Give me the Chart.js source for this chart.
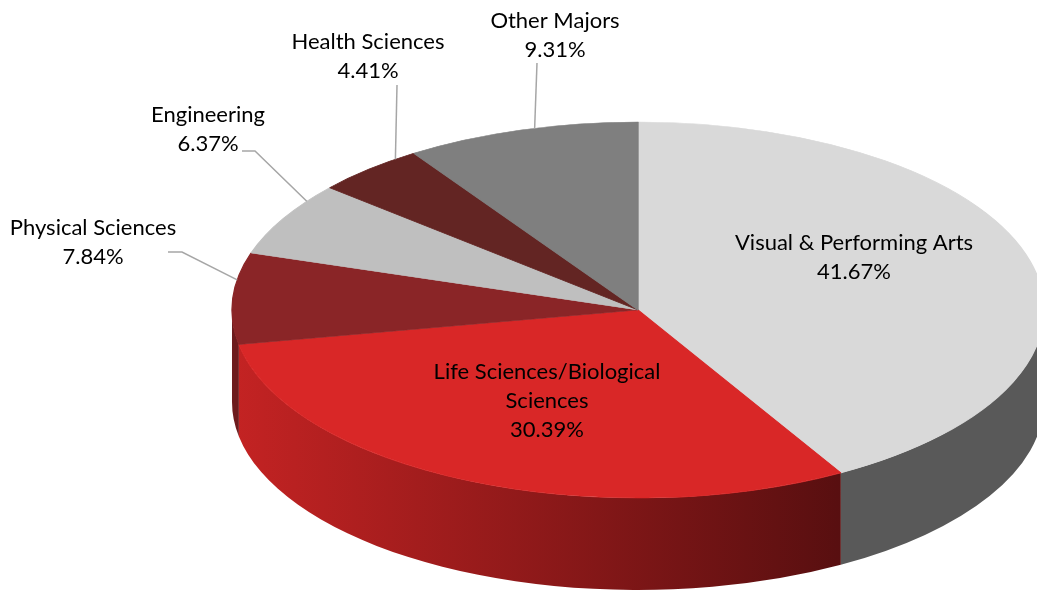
<!DOCTYPE html>
<html>
<head>
<meta charset="utf-8">
<title>Majors</title>
<script src="https://cdn.jsdelivr.net/npm/chart.js@4.4.1/dist/chart.umd.min.js"></script>
<style>
  html, body { margin: 0; padding: 0; background: #fff; }
  canvas { display: block; }
</style>
</head>
<body>
<canvas id="majors" width="1037" height="601"></canvas>
<script>
const majors = ['Visual & Performing Arts', 'Life Sciences/Biological Sciences', 'Physical Sciences', 'Engineering', 'Health Sciences', 'Other Majors'];
const shares = [41.67, 30.39, 7.84, 6.37, 4.41, 9.31];

// top face and rim colours (null = gradient rim)
const topColors = ['#d9d9d9', '#d92727', '#8a2527', '#bfbfbf', '#632523', '#7f7f7f'];
const rimColors = ['#595959', null, '#6d1b1d', '#8f8f8f', '#4a1b1a', '#5f5f5f'];

// tilted pie: ellipse radii and rim depth
const RX = 406, RY = 188, DEPTH = 92;
const LINE = 29;

// label placement (centre of first line) and leader lines for the outside ones
const labelPos = [[854, 243], [547, 372], [93, 228], [208, 115], [368, 42], [555, 21]];
const leaders = [
    null,
    null,
    {from: [168, 252], elbow: 14, at: 0.7},
    {from: [242, 151], elbow: 13, at: 0.77},
    {from: [397, 85], elbow: 0, at: 0.8},
    {from: [537, 63], elbow: 0, at: 0.56}
];

function wrap(ctx, text, maxW) {
    let words = text.split(' ');
    let lines = [];
    let cur = '';
    for (let w of words) {
        let test = cur ? cur + ' ' + w : w;
        if (cur && ctx.measureText(test).width > maxW) {
            lines.push(cur);
            cur = w;
        } else {
            cur = test;
        }
    }
    lines.push(cur);
    return lines;
}

const pie3d = {
    id: 'pie3d',
    beforeDatasetsDraw(chart) {
        const ctx = chart.ctx;
        const arcs = chart.getDatasetMeta(0).data;
        const cx = arcs[0].x, cy = arcs[0].y, r = arcs[0].outerRadius;
        // rim, only the front half is visible
        arcs.forEach((arc, i) => {
            let s = Math.max(arc.startAngle, 0);
            let e = Math.min(arc.endAngle, Math.PI);
            if (e <= s) return;
            let fill = rimColors[i];
            if (!fill) {
                fill = ctx.createLinearGradient(cx - RX, 0, cx + RX * 0.57, 0);
                fill.addColorStop(0, '#c42323');
                fill.addColorStop(1, '#530e0f');
            }
            ctx.beginPath();
            ctx.ellipse(cx, cy, RX, RY, 0, s, e);
            ctx.ellipse(cx, cy + DEPTH, RX, RY, 0, e, s, true);
            ctx.closePath();
            ctx.fillStyle = fill;
            ctx.fill();
        });
        // squash the round pie into the top face
        ctx.save();
        ctx.translate(cx, cy);
        ctx.scale(RX / r, RY / r);
        ctx.translate(-cx, -cy);
    },
    afterDatasetsDraw(chart) {
        const ctx = chart.ctx;
        ctx.restore();
        const arcs = chart.getDatasetMeta(0).data;
        const cx = arcs[0].x, cy = arcs[0].y;
        ctx.save();
        ctx.font = '22px Lato';
        ctx.textAlign = 'center';
        ctx.textBaseline = 'middle';
        arcs.forEach((arc, i) => {
            let lines = wrap(ctx, majors[i], 265);
            lines.push(shares[i].toFixed(2) + '%');
            ctx.fillStyle = '#000000';
            lines.forEach((ln, k) => ctx.fillText(ln, labelPos[i][0], labelPos[i][1] + k * LINE));
            let ld = leaders[i];
            if (ld) {
                let t = arc.startAngle + (arc.endAngle - arc.startAngle) * ld.at;
                let ax = cx + RX * Math.cos(t);
                let ay = cy + RY * Math.sin(t);
                ctx.beginPath();
                ctx.moveTo(ld.from[0], ld.from[1]);
                ctx.lineTo(ld.from[0] + ld.elbow, ld.from[1]);
                ctx.lineTo(ax, ay);
                ctx.strokeStyle = '#a6a6a6';
                ctx.lineWidth = 1.5;
                ctx.stroke();
            }
        });
        ctx.restore();
    }
};

const ctx = document.getElementById('majors').getContext('2d');
const myChart = new Chart(ctx, {
    type: 'pie',
    data: {
        labels: majors,
        datasets: [{
            data: shares,
            backgroundColor: topColors,
            borderColor: topColors,
            borderWidth: 0.5,
            clip: false
        }]
    },
    options: {
        responsive: false,
        animation: false,
        devicePixelRatio: 1,
        events: [],
        layout: {
            padding: {left: 488, right: 249, top: 160, bottom: 141}
        },
        plugins: {
            legend: {display: false},
            tooltip: {enabled: false}
        }
    },
    plugins: [pie3d]
});
</script>
</body>
</html>
